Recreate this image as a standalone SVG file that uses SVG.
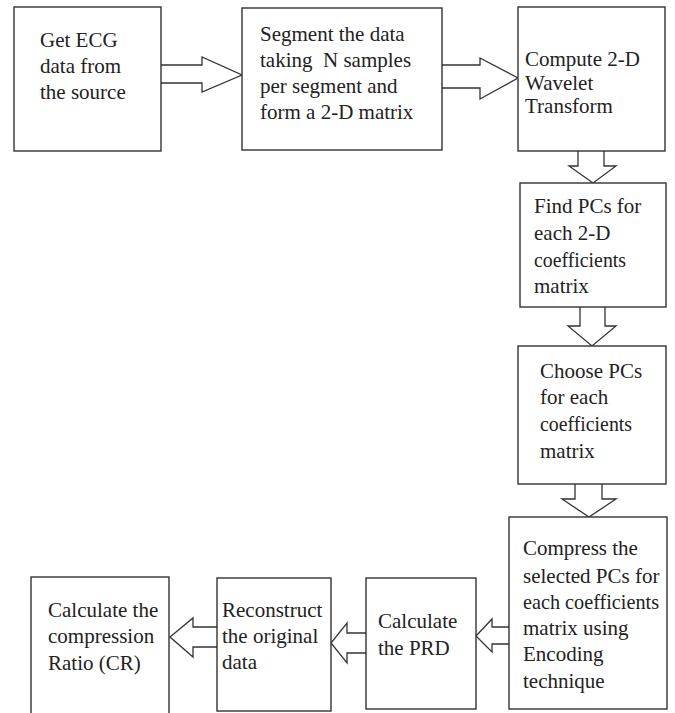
<svg xmlns="http://www.w3.org/2000/svg" width="675" height="713" viewBox="0 0 675 713">
<style>
.box{fill:#fff;stroke:#333;stroke-width:1.4}
.arr{fill:#fff;stroke:#333;stroke-width:1.3;stroke-linejoin:miter}
text{font-family:"Liberation Serif","Times New Roman",serif;font-size:21px;fill:#222}
.pre{white-space:pre}
</style>
<rect width="675" height="713" fill="#fff"/>
<g id="connectors">
<polyline class="arr" points="161,65 202,65 202,57 242,75 202,92 202,83 161,83"/>
<polyline class="arr" points="442,65 480,65 480,58 518,78 480,99 480,88 442,88"/>
<polyline class="arr" points="578,151 578,166 569,166 593,183 616,166 604,166 604,151"/>
<polyline class="arr" points="580,307 580,326 568,326 592,346 616,326 605,326 605,307"/>
<polyline class="arr" points="575,484 575,499 562,499 589,517 616,499 602,499 602,484"/>
<polyline class="arr" points="509,627 492,627 492,619 476,636 492,652 492,644 509,644"/>
<polyline class="arr" points="366,633 347,633 347,623 331,643 347,663 347,653 366,653"/>
<polyline class="arr" points="217,627 193,627 193,618 170,637 193,657 193,647 217,647"/>
</g>
<g id="n1">
<rect class="box" x="14" y="7" width="147" height="144"/>
<text x="40" y="47">Get ECG</text>
<text x="40" y="73">data from</text>
<text x="40" y="99">the source</text>
</g>
<g id="n2">
<rect class="box" x="242" y="8" width="200" height="142"/>
<text x="260" y="41">Segment the data</text>
<text class="pre" x="260" y="67" xml:space="preserve">taking  N samples</text>
<text x="260" y="93">per segment and</text>
<text x="260" y="119">form a 2-D matrix</text>
</g>
<g id="n3">
<rect class="box" x="518" y="7" width="147" height="144"/>
<text x="525" y="66">Compute 2-D</text>
<text x="525" y="90">Wavelet</text>
<text x="525" y="113">Transform</text>
</g>
<g id="n4">
<rect class="box" x="520" y="183" width="146" height="124"/>
<text x="534" y="213">Find PCs for</text>
<text x="534" y="240">each 2-D</text>
<text x="534" y="267" textLength="92" lengthAdjust="spacingAndGlyphs">coefficients</text>
<text x="534" y="293">matrix</text>
</g>
<g id="n5">
<rect class="box" x="518" y="346" width="148" height="138"/>
<text x="540" y="378">Choose PCs</text>
<text x="540" y="404">for each</text>
<text x="540" y="431" textLength="92" lengthAdjust="spacingAndGlyphs">coefficients</text>
<text x="540" y="458">matrix</text>
</g>
<g id="n6">
<rect class="box" x="509" y="517" width="158" height="192"/>
<text x="523" y="555">Compress the</text>
<text x="523" y="583">selected PCs for</text>
<text x="523" y="609" textLength="136" lengthAdjust="spacingAndGlyphs">each coefficients</text>
<text x="523" y="635">matrix using</text>
<text x="523" y="661">Encoding</text>
<text x="523" y="688">technique</text>
</g>
<g id="n7">
<rect class="box" x="366" y="578" width="110" height="131"/>
<text x="378" y="628">Calculate</text>
<text x="378" y="655">the PRD</text>
</g>
<g id="n8">
<rect class="box" x="217" y="578" width="114" height="133"/>
<text x="222" y="617">Reconstruct</text>
<text x="222" y="643">the original</text>
<text x="222" y="669">data</text>
</g>
<g id="n9">
<rect class="box" x="31" y="577" width="138" height="140"/>
<text x="48" y="617">Calculate the</text>
<text x="48" y="643">compression</text>
<text x="48" y="670">Ratio (CR)</text>
</g>
</svg>
